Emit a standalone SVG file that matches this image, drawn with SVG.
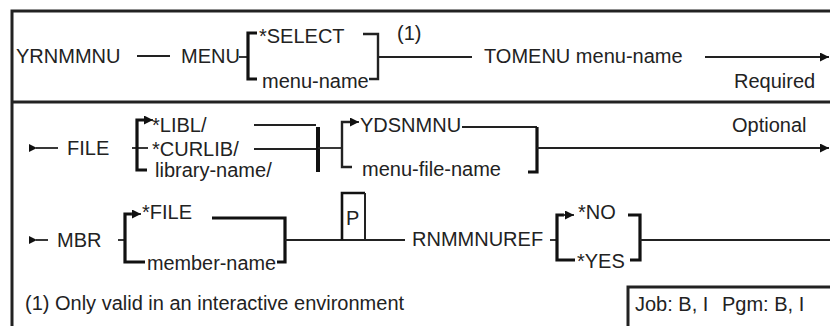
<svg xmlns="http://www.w3.org/2000/svg" width="830" height="326" viewBox="0 0 830 326">
<defs>
<style>
text{font-family:"Liberation Sans",Arial,sans-serif;font-size:20px;fill:#222}
.ln{stroke:#222;stroke-width:1.8;fill:none}
.bk{stroke:#111;stroke-width:3.2;fill:none}
.bt{stroke:#222;stroke-width:2.4;fill:none}
.fr{stroke:#222;stroke-width:3;fill:none}
.ah{fill:#111}
</style>
<marker id="arr" viewBox="0 0 10 10" refX="10" refY="5" markerWidth="9" markerHeight="9" markerUnits="userSpaceOnUse" orient="auto">
<path d="M0,0 L10,5 L0,10 Z" fill="#111"/>
</marker>
</defs>
<rect width="830" height="326" fill="#fff"/>
<g id="frame">
<path class="fr" d="M12,326 V11 H830"/>
<path class="fr" d="M12,102 H830"/>
</g>
<g id="connectors">
<path class="ln" d="M137,56 H170"/>
<path class="ln" d="M239,57 H248"/>
<path class="bk" d="M257,33 H248 V79 H257"/>
<path class="bt" d="M363,34 H378 V79 H369"/>
<path class="ln" d="M378,57 H472"/>
<path class="ln" d="M705,57 H829" marker-end="url(#arr)"/>
<path class="ah" d="M29,144 L37,148 L29,152 Z"/>
<path class="ln" d="M36,148 H58"/>
<path class="ln" d="M132,148 H148"/>
<path class="bk" d="M147,170 H137 V120 H145"/>
<path class="ln" d="M144,120 H153" marker-end="url(#arr)"/>
<path class="ln" d="M254,125 H316"/>
<path class="ln" d="M254,149 H316"/>
<path class="bk" d="M318,127 V172" style="stroke-width:4"/>
<path class="ln" d="M318,148 H342"/>
<path class="bt" d="M352,167 H342 V122 H350"/>
<path class="ln" d="M349,122 H359" marker-end="url(#arr)"/>
<path class="ln" d="M462,127 H537"/>
<path class="bk" d="M528,172 H537 V127"/>
<path class="ln" d="M537,148 H829" marker-end="url(#arr)"/>
<path class="ah" d="M29,236 L37,240 L29,244 Z"/>
<path class="ln" d="M36,240 H48"/>
<path class="ln" d="M118,240 H126"/>
<path class="bk" d="M145,262 H125 V214 H132"/>
<path class="ln" d="M131,214 H141" marker-end="url(#arr)"/>
<path class="bk" d="M212,218 H285 V262 H277"/>
<path class="ln" d="M285,240 H405"/>
<path class="bk" d="M342,240 V193 H365" style="stroke-width:2.6"/>
<path class="bt" d="M365,193 V240" style="stroke-width:2"/>
<path class="ln" d="M550,240 H558"/>
<path class="bk" d="M575,260 H557 V215 H564"/>
<path class="ln" d="M563,215 H574" marker-end="url(#arr)"/>
<path class="bk" d="M628,215 H640 V260 H630"/>
<path class="ln" d="M640,240 H830"/>
</g>
<g id="n-yrnmmnu"><text x="16" y="63">YRNMMNU</text></g>
<g id="n-menu"><text x="181" y="63">MENU</text></g>
<g id="n-select"><text x="259" y="43">*SELECT</text></g>
<g id="n-menu-name"><text x="262" y="88">menu-name</text></g>
<g id="n-note1"><text x="397" y="40">(1)</text></g>
<g id="n-tomenu"><text x="484" y="63">TOMENU menu-name</text></g>
<g id="n-required"><text x="734" y="88">Required</text></g>
<g id="n-file"><text x="67" y="155">FILE</text></g>
<g id="n-libl"><text x="152" y="132">*LIBL/</text></g>
<g id="n-curlib"><text x="152" y="156">*CURLIB/</text></g>
<g id="n-library-name"><text x="155" y="177">library-name/</text></g>
<g id="n-ydsnmnu"><text x="360" y="132">YDSNMNU</text></g>
<g id="n-menu-file-name"><text x="362" y="176">menu-file-name</text></g>
<g id="n-optional"><text x="732" y="132">Optional</text></g>
<g id="n-mbr"><text x="57" y="247">MBR</text></g>
<g id="n-starfile"><text x="142" y="219">*FILE</text></g>
<g id="n-member-name"><text x="147" y="270" textLength="129" lengthAdjust="spacingAndGlyphs">member-name</text></g>
<g id="n-p"><text x="346" y="225">P</text></g>
<g id="n-rnmmnuref"><text x="412" y="246">RNMMNUREF</text></g>
<g id="n-no"><text x="578" y="219">*NO</text></g>
<g id="n-yes"><text x="577" y="268">*YES</text></g>
<g id="n-footnote"><text x="25" y="310">(1) Only valid in an interactive environment</text></g>
<g id="n-jobbox">
<path class="fr" d="M628,326 V287 H830"/>
<text x="635" y="311">Job: B, I</text>
<text x="722" y="311">Pgm: B, I</text>
</g>
</svg>
